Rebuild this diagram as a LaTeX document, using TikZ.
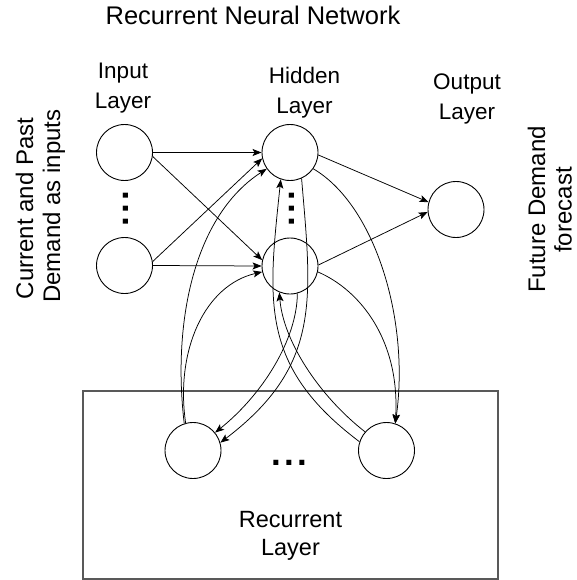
\documentclass[tikz,border=0pt]{standalone}
\usepackage{fontspec}
\setmainfont{Liberation Sans}
\usetikzlibrary{arrows.meta}
\begin{document}
\begin{tikzpicture}[x=1pt,y=-1pt,
  neuron/.style={circle,draw,line width=0.9pt,minimum size=56pt,inner sep=0pt},
  link/.style={line width=0.75pt,-{Stealth[length=9pt,width=7pt,inset=2pt]}},
  title/.style={font=\fontsize{25.5}{30}\selectfont,anchor=base,inner sep=0pt},
  lbl/.style={font=\fontsize{22.5}{27}\selectfont,anchor=base,inner sep=0pt},
  reclbl/.style={font=\fontsize{23.5}{28}\selectfont,anchor=base,inner sep=0pt},
  side/.style={font=\fontsize{24}{28}\selectfont,anchor=base,inner sep=0pt,rotate=90},
  ellip/.style={font=\fontsize{35}{35}\selectfont\bfseries,anchor=base,inner sep=0pt},
  layerbox/.style={draw=black!65,line width=1.2pt}]
\useasboundingbox (0,0) rectangle (577,580);

% recurrent layer frame
\draw[layerbox] (83,391) rectangle (498,579);

% titles and captions
\node[title] (ttl) at (253,25) {Recurrent Neural Network};
\node[lbl] (inA) at (123,78.3) {Input};
\node[lbl] (inB) at (123,108.3) {Layer};
\node[lbl] (hidA) at (304.5,83.3) {Hidden};
\node[lbl] (hidB) at (304.5,113.3) {Layer};
\node[lbl] (outA) at (467,90) {Output};
\node[lbl] (outB) at (467,120) {Layer};
\node[reclbl] (recA) at (290.5,527) {Recurrent};
\node[reclbl] (recB) at (290.5,555) {Layer};
\node[side] (leftA) at (33,208.5) {Current and Past};
\node[side] (leftB) at (60,206) {Demand as inputs};
\node[side] (rightA) at (545,209.5) {Future Demand};
\node[side] (rightB) at (571.5,210) {forecast};

% neurons
\node[neuron] (I1) at (124.5,152.5) {};
\node[neuron] (I2) at (124.5,265.5) {};
\node[neuron] (H1) at (290,152.5) {};
\node[neuron] (H2) at (290,266) {};
\node[neuron] (O)  at (456,209.5) {};
\node[neuron] (R1) at (193,450.5) {};
\node[neuron] (R2) at (386.5,450.5) {};

% ellipses
\node[ellip,rotate=90] (idots) at (128.1,208.9) {.\kern3.5pt.\kern3.5pt.};
\node[ellip,rotate=90] (hdots) at (294.4,208.5) {.\kern3.5pt.\kern3.5pt.};
\node[ellip] (rdots) at (289.5,465.1) {.\kern3.5pt.\kern3.5pt.};

% input to hidden
\draw[link] (I1.east) -- (H1.west);
\draw[link] (I1.-8) -- (H2.168);
\draw[link] (I2.8) -- (H1.192);
\draw[link] (I2.east) -- (H2.west);

% hidden to output
\draw[link] (H1.-5) -- (O.165);
\draw[link] (H2.2) -- (O.185);

% recurrent feedback, left unit
\draw[link] (R1.108) .. controls (172,320) and (195,215) .. (H1.215);
\draw[link] (R1.105) .. controls (175,350) and (205,285) .. (H2.192);
\draw[link] (H1.-66) .. controls (312,301) and (321,366) .. (R1.16);
\draw[link] (H2.-75) .. controls (297,340) and (262,395) .. (R1.39);

% recurrent feedback, right unit
\draw[link] (H1.-35) .. controls (375,205) and (410,320) .. (R2.72);
\draw[link] (H2.-12) .. controls (360,290) and (400,340) .. (R2.72);
\draw[link] (R2.162) .. controls (259,366) and (268,301) .. (H1.251);
\draw[link] (R2.139) .. controls (318,395) and (283,340) .. (H2.248);
\end{tikzpicture}
\end{document}
